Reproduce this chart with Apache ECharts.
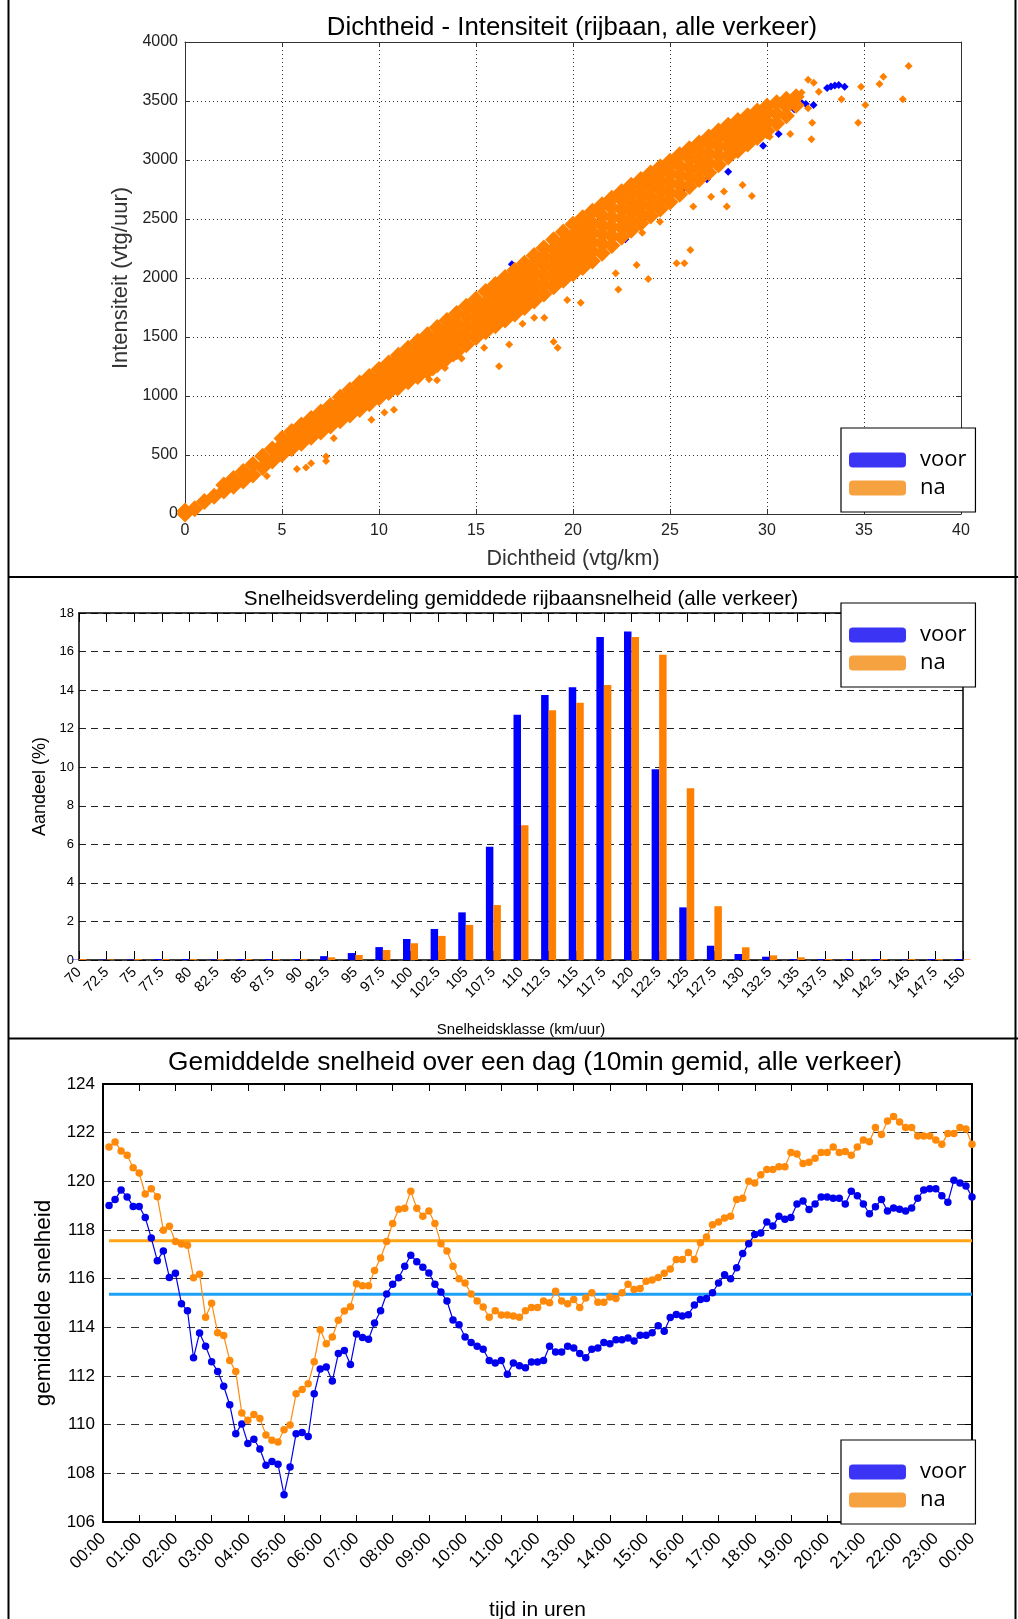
<!DOCTYPE html>
<html><head><meta charset="utf-8">
<script src="https://cdn.jsdelivr.net/npm/echarts@6/dist/echarts.min.js"></script>
<style>html,body{margin:0;padding:0;background:#fff}#c{width:1018px;height:1619px}</style>
</head><body><div id="c"></div>
<script>
// ---------- Panel 1: Dichtheid - Intensiteit (scatter) ----------
const naKolommen = [
[0,0,25],[0.5,45],[1,105],[1.5,150],[2,195,245],[2.5,235,300],[3,280,360],[3.5,330,420],
[4,395,490],[4.5,450,550],[5,505,585,640],[5.5,555,640,700],[6,600,680,755],[6.5,650,730,810],
[7,695,775,865],[7.5,745,830,920],[8,790,870,950,990],[8.5,840,920,1000,1050],[9,885,965,1045,1110],
[9.5,935,1015,1095,1165],[10,985,1065,1145,1225],[10.5,1030,1110,1190,1280],[11,1075,1155,1235,1315,1345],
[11.5,1120,1200,1280,1360,1405],[12,1165,1245,1325,1405,1465],[12.5,1210,1290,1370,1450,1520],
[13,1265,1345,1425,1505,1580],[13.5,1320,1400,1480,1560,1640],[14,1375,1455,1535,1615,1700],
[14.5,1435,1515,1595,1675,1760],[15,1495,1575,1655,1735,1820],[15.5,1545,1625,1705,1785,1885],
[16,1595,1675,1755,1835,1915,1945],[16.5,1645,1725,1805,1885,1965,2005],[17,1695,1775,1855,1935,2015,2065],
[17.5,1750,1830,1910,1990,2070,2125],[18,1805,1885,1965,2045,2125,2190],[18.5,1865,1945,2025,2105,2185,2255],
[19,1925,2005,2085,2165,2245,2325],[19.5,1980,2060,2140,2220,2300,2390],[20,2035,2115,2195,2275,2355,2455],
[20.5,2090,2170,2250,2330,2410,2510],[21,2145,2225,2305,2385,2465,2565],[21.5,2210,2290,2370,2450,2530,2620],
[22,2275,2355,2435,2515,2595,2675],[22.5,2345,2425,2505,2585,2665,2730],[23,2405,2485,2565,2645,2725,2785],
[23.5,2465,2545,2625,2705,2785,2835],[24,2525,2605,2685,2765,2845,2890],[24.5,2585,2665,2745,2825,2905,2940],
[25,2645,2725,2805,2885,2965,2990],[25.5,2710,2790,2870,2950,3045],[26,2775,2855,2935,3015,3095],
[26.5,2835,2915,2995,3075,3145],[27,2895,2975,3055,3135,3195],[27.5,2960,3040,3120,3200,3245],
[28,3025,3105,3185,3265,3295],[28.5,3080,3160,3240,3335],[29,3135,3215,3295,3375],[29.5,3190,3270,3350,3415],
[30,3245,3325,3405,3455],[30.5,3310,3390,3485],[31,3375,3455,3515],[31.5,3465,3535]
];
const naLosse = [
[37.3,3797],[36.0,3706],[35.8,3644],[37.0,3514],[34.85,3621],[35.07,3466],[34.7,3316],[33.84,3514],
[32.12,3681],[32.41,3655],[31.78,3571],[32.67,3579],[32.33,3316],[32.29,3175],[31.2,3220],[32.12,3438],
[30.14,3198],[29.22,2695],[28.74,2788],[27.93,2605],[27.78,2732],[27.12,2689],[26.2,2605],[26.05,2237],
[25.74,2124],[25.34,2124],[23.28,2110],[23.88,1992],[22.34,1902],[22.2,2040],[24.48,2477],[23.57,2384],
[20.4,1791],[19.7,1813],[19.0,1459],[19.21,1408],[18.0,1663],[18.52,1663],[17.4,1612],[16.71,1436],
[16.19,1252],[15.42,1408],[14.26,1317],[13.83,1317],[13.4,1238],[12.99,1133],[12.58,1142],[12.78,1201],
[10.77,884],[10.94,1031],[10.28,861],[9.61,799],[7.67,643],[7.27,487],[7.27,450],[6.5,431],[6.24,394],
[5.77,382],[4.22,323]
];
const voorPunten = [
[33.1,3610],[33.3,3622],[33.5,3632],[33.7,3636],[34.0,3620],[31.8,3480],[32.0,3475],[32.4,3466],
[31.0,3430],[31.4,3430],[30.6,3220],[29.8,3120],[28.4,3113],[27.6,2940],[28.0,2900],[26.9,2836],
[25.7,2757],[22.9,2440],[22.7,2328],[22.1,2288],[16.85,2116],[13.83,1394],[10.94,1111],[10.39,1045],
[9.35,955],[9.04,912],[8.06,807],[5,560],[15,1650],[20,2250],[25,2800],[30,3350]
];

// ---------- Panel 2: Snelheidsverdeling ----------
const snelheidsklassen = [70,72.5,75,77.5,80,82.5,85,87.5,90,92.5,95,97.5,100,102.5,105,107.5,110,112.5,115,117.5,120,122.5,125,127.5,130,132.5,135,137.5,140,142.5,145,147.5,150];
const aandeelVoor = [0.02,0.02,0.02,0.05,0.05,0.03,0.05,0.05,0.05,0.2,0.36,0.67,1.09,1.61,2.47,5.87,12.72,13.75,14.15,16.76,17.04,9.9,2.73,0.74,0.31,0.17,0.05,0.05,0.05,0.05,0.02,0.05,0.05];
const aandeelNa   = [0.05,0.03,0.05,0.05,0.05,0.05,0.05,0.05,0.05,0.14,0.26,0.52,0.87,1.25,1.82,2.85,6.99,12.96,13.34,14.27,16.76,15.83,8.91,2.79,0.66,0.24,0.14,0.05,0.05,0.05,0.05,0.05,0.03];

// ---------- Panel 3: Gemiddelde snelheid over een dag (10 min, 00:10 .. 24:00) ----------
const snelheidVoor = [
119.01,119.25,119.64,119.36,118.97,118.97,118.51,117.67,116.74,117.14,116.05,116.22,114.97,114.68,112.75,113.77,113.22,112.59,112.19,111.58,110.82,109.63,110.03,109.23,
109.40,109.00,108.33,108.49,108.37,107.12,108.26,109.63,109.68,109.51,111.27,112.29,112.37,111.79,112.92,113.05,112.47,113.73,113.58,113.51,114.18,114.68,115.37,115.77,
116.04,116.51,116.96,116.70,116.47,116.23,115.77,115.45,115.08,114.30,114.11,113.60,113.38,113.22,113.10,112.64,112.53,112.64,112.07,112.53,112.42,112.34,112.58,112.58,
112.64,113.22,112.99,112.99,113.22,113.15,112.92,112.75,113.10,113.15,113.38,113.33,113.49,113.49,113.56,113.44,113.67,113.67,113.78,114.07,113.84,114.40,114.53,114.47,
114.52,114.92,115.14,115.19,115.42,115.82,116.16,116.00,116.45,117.03,117.44,117.82,117.88,118.33,118.16,118.56,118.44,118.51,119.07,119.19,118.84,119.07,119.36,119.36,
119.30,119.30,119.07,119.59,119.41,119.07,118.67,118.96,119.25,118.78,118.90,118.85,118.78,118.90,119.30,119.64,119.70,119.70,119.41,119.14,120.04,119.93,119.81,119.36
];
const snelheidNa = [
121.41,121.62,121.25,121.07,120.56,120.34,119.48,119.70,119.37,117.99,118.15,117.53,117.42,117.37,116.04,116.18,114.41,114.99,113.78,113.66,112.64,112.18,110.48,110.18,
110.42,110.25,109.58,109.36,109.29,109.79,109.99,111.27,111.45,111.68,112.59,113.90,113.33,113.60,114.29,114.67,114.85,115.79,115.71,115.71,116.34,116.85,117.53,118.27,
118.85,118.89,119.59,118.89,118.56,118.78,118.27,117.44,117.14,116.51,116.00,115.82,115.37,115.08,114.84,114.41,114.68,114.51,114.51,114.47,114.41,114.68,114.81,114.81,
115.08,115.01,115.48,115.08,114.97,115.14,114.81,115.21,115.42,115.03,115.03,115.25,115.19,115.42,115.77,115.55,115.60,115.89,115.95,116.05,116.22,116.40,116.79,116.79,
117.08,116.79,117.48,117.71,118.22,118.33,118.49,118.56,119.25,119.30,120.00,119.93,120.27,120.49,120.49,120.60,120.60,121.18,121.12,120.73,120.78,120.95,121.18,121.18,
121.41,121.18,121.23,121.07,121.41,121.70,121.63,122.21,121.92,122.48,122.66,122.44,122.21,122.21,121.86,121.86,121.86,121.70,121.52,121.97,121.97,122.21,122.15,121.52
];
const gemiddeldeVoor = 115.36;
const gemiddeldeNa = 117.56;
const uurLabels = ['00:00','01:00','02:00','03:00','04:00','05:00','06:00','07:00','08:00','09:00','10:00','11:00','12:00','13:00','14:00','15:00','16:00','17:00','18:00','19:00','20:00','21:00','22:00','23:00','00:00'];

// ---------- build ----------
const naBand = [];
naKolommen.forEach(r => { for (let k = 1; k < r.length; k++) naBand.push([r[0], r[k]]); });
const barVoor = snelheidsklassen.map((k, i) => [k, aandeelVoor[i]]);
const barNa = snelheidsklassen.map((k, i) => [k, aandeelNa[i]]);
const lijnVoor = snelheidVoor.map((v, i) => [(i + 1) * 10, v]);
const lijnNa = snelheidNa.map((v, i) => [(i + 1) * 10, v]);

const F = "'Liberation Sans', Arial, sans-serif";
const BLUE = '#0000ff', ORANGE = '#ff8000';

function legendBox(left, top) {
  return {
    left: left, top: top, orient: 'vertical', icon: 'roundRect',
    itemWidth: 57, itemHeight: 15, itemGap: 6, padding: [21, 9, 13, 8],
    backgroundColor: '#fff', borderColor: '#000', borderWidth: 1.2,
    selectedMode: false, z: 20,
    textStyle: { fontFamily: "'Open Sans', sans-serif", fontSize: 22, color: '#000', padding: [0, 0, 0, 9] },
    data: [{ name: 'voor', itemStyle: { color: '#3c34f4', opacity: 1 } }, { name: 'na', itemStyle: { color: '#f7a241', opacity: 1 } }]
  };
}
function mirrorX(grid, min, max, interval, color, width, tickLen) {
  return { gridIndex: grid, type: 'value', position: 'top', min, max, interval,
    axisLine: { show: true, onZero: false, lineStyle: { color, width } },
    axisTick: { show: true, inside: true, length: tickLen, lineStyle: { color, width: 1 } },
    axisLabel: { show: false }, splitLine: { show: false } };
}
function mirrorY(grid, min, max, interval, color, width, tickLen) {
  return { gridIndex: grid, type: 'value', position: 'right', min, max, interval,
    axisLine: { show: true, onZero: false, lineStyle: { color, width } },
    axisTick: { show: true, inside: true, length: tickLen, lineStyle: { color, width: 1 } },
    axisLabel: { show: false }, splitLine: { show: false } };
}

const option = {
  animation: false,
  backgroundColor: '#fff',
  title: [
    { text: 'Dichtheid - Intensiteit (rijbaan, alle verkeer)', left: 567, top: 10, textAlign: 'center',
      textStyle: { fontFamily: F, fontSize: 25.8, fontWeight: 'normal', color: '#000' } },
    { text: 'Snelheidsverdeling gemiddede rijbaansnelheid (alle verkeer)', left: 516, top: 584, textAlign: 'center',
      textStyle: { fontFamily: F, fontSize: 20.7, fontWeight: 'normal', color: '#000' } },
    { text: 'Gemiddelde snelheid over een dag (10min gemid, alle verkeer)', left: 530, top: 1045, textAlign: 'center',
      textStyle: { fontFamily: F, fontSize: 26.3, fontWeight: 'normal', color: '#000' } }
  ],
  legend: [legendBox(841, 428), legendBox(841, 603), legendBox(841, 1440)],
  grid: [
    { left: 185, right: 57, top: 42, height: 472, outerBoundsMode: 'none', containLabel: false },
    { left: 79, right: 55, top: 613, height: 347, outerBoundsMode: 'none', containLabel: false },
    { left: 103, right: 46, top: 1084, height: 438, outerBoundsMode: 'none', containLabel: false }
  ],
  xAxis: [
    { gridIndex: 0, type: 'value', min: 0, max: 40, interval: 5,
      axisLine: { show: true, onZero: false, lineStyle: { color: '#333', width: 1 } },
      axisTick: { show: true, inside: true, length: 5, lineStyle: { color: '#333' } },
      axisLabel: { fontFamily: F, fontSize: 16, color: '#222', margin: 9 },
      splitLine: { show: true, lineStyle: { type: [1, 3], color: '#333', width: 1 } },
      name: 'Dichtheid (vtg/km)', nameLocation: 'middle', nameGap: 34,
      nameTextStyle: { fontFamily: F, fontSize: 21.5, color: '#333' } },
    mirrorX(0, 0, 40, 5, '#333', 1, 5),
    { gridIndex: 1, type: 'value', min: 70, max: 150, interval: 2.5,
      axisLine: { show: true, onZero: false, lineStyle: { color: '#000', width: 1.5 } },
      axisTick: { show: true, inside: true, length: 9, lineStyle: { color: '#000' } },
      axisLabel: { fontFamily: F, fontSize: 14.5, color: '#000', rotate: 45, margin: 10,
        formatter: v => String(v) },
      splitLine: { show: false },
      name: 'Snelheidsklasse (km/uur)', nameLocation: 'middle', nameGap: 62,
      nameTextStyle: { fontFamily: F, fontSize: 15, color: '#000' } },
    mirrorX(1, 70, 150, 2.5, '#000', 1.5, 9),
    { gridIndex: 2, type: 'value', min: 0, max: 1440, interval: 60,
      axisLine: { show: true, onZero: false, lineStyle: { color: '#000', width: 2 } },
      axisTick: { show: true, inside: true, length: 7, lineStyle: { color: '#000' } },
      axisLabel: { fontFamily: F, fontSize: 17, color: '#000', rotate: 45, margin: 14,
        formatter: v => uurLabels[Math.round(v / 60)] },
      splitLine: { show: false },
      name: 'tijd in uren', nameLocation: 'middle', nameGap: 78,
      nameTextStyle: { fontFamily: F, fontSize: 21, color: '#000' } },
    mirrorX(2, 0, 1440, 60, '#000', 2, 7)
  ],
  yAxis: [
    { gridIndex: 0, type: 'value', min: 0, max: 4000, interval: 500,
      axisLine: { show: true, onZero: false, lineStyle: { color: '#333', width: 1 } },
      axisTick: { show: true, inside: true, length: 5, lineStyle: { color: '#333' } },
      axisLabel: { fontFamily: F, fontSize: 16, color: '#222', margin: 7, formatter: v => String(v) },
      splitLine: { show: true, lineStyle: { type: [1, 3], color: '#333', width: 1 } },
      name: 'Intensiteit (vtg/uur)', nameLocation: 'middle', nameGap: 51,
      nameTextStyle: { fontFamily: F, fontSize: 22, color: '#333' } },
    mirrorY(0, 0, 4000, 500, '#333', 1, 5),
    { gridIndex: 1, type: 'value', min: 0, max: 18, interval: 2,
      axisLine: { show: true, onZero: false, lineStyle: { color: '#000', width: 1.5 } },
      axisTick: { show: false },
      axisLabel: { fontFamily: F, fontSize: 13, color: '#000', margin: 5 },
      splitLine: { show: true, lineStyle: { type: [7, 5], color: '#222', width: 1.2 } },
      name: 'Aandeel (%)', nameLocation: 'middle', nameGap: 26,
      nameTextStyle: { fontFamily: F, fontSize: 18, color: '#000' } },
    mirrorY(1, 0, 18, 2, '#000', 1.5, 9),
    { gridIndex: 2, type: 'value', min: 106, max: 124, interval: 2,
      axisLine: { show: true, onZero: false, lineStyle: { color: '#000', width: 2 } },
      axisTick: { show: false },
      axisLabel: { fontFamily: F, fontSize: 17, color: '#000', margin: 8 },
      splitLine: { show: true, lineStyle: { type: [8, 6], color: '#333', width: 1.2 } },
      name: 'gemiddelde snelheid', nameLocation: 'middle', nameGap: 44,
      nameTextStyle: { fontFamily: F, fontSize: 22.5, color: '#000' } },
    mirrorY(2, 106, 124, 2, '#000', 2, 7)
  ],
  series: [
    { name: 'voor', type: 'scatter', xAxisIndex: 0, yAxisIndex: 0, symbol: 'diamond', symbolSize: 8,
      itemStyle: { color: BLUE, opacity: 1 }, data: voorPunten },
    { name: 'na', type: 'scatter', xAxisIndex: 0, yAxisIndex: 0, symbol: 'diamond', symbolSize: 17,
      itemStyle: { color: ORANGE, opacity: 1 }, data: naBand },
    { name: 'na', type: 'scatter', xAxisIndex: 0, yAxisIndex: 0, symbol: 'diamond', symbolSize: 8,
      itemStyle: { color: ORANGE, opacity: 1 }, data: naLosse },

    { name: 'voor', type: 'bar', xAxisIndex: 2, yAxisIndex: 2, barWidth: 7.5, barGap: '0%',
      itemStyle: { color: BLUE }, data: barVoor },
    { name: 'na', type: 'bar', xAxisIndex: 2, yAxisIndex: 2, barWidth: 7.5, barGap: '0%',
      itemStyle: { color: ORANGE }, data: barNa },

    { name: 'gem na', type: 'line', xAxisIndex: 4, yAxisIndex: 4, symbol: 'none',
      lineStyle: { color: '#ffa514', width: 3 }, data: [[10, gemiddeldeNa], [1440, gemiddeldeNa]] },
    { name: 'gem voor', type: 'line', xAxisIndex: 4, yAxisIndex: 4, symbol: 'none',
      lineStyle: { color: '#1ea0f8', width: 3 }, data: [[10, gemiddeldeVoor], [1440, gemiddeldeVoor]] },
    { name: 'voor', type: 'line', xAxisIndex: 4, yAxisIndex: 4, symbol: 'circle', symbolSize: 7.5,
      itemStyle: { color: '#0000ee' }, lineStyle: { color: '#0000ee', width: 1.2 }, data: lijnVoor },
    { name: 'na', type: 'line', xAxisIndex: 4, yAxisIndex: 4, symbol: 'circle', symbolSize: 7.5,
      itemStyle: { color: '#ff8a0a' }, lineStyle: { color: '#ff8a0a', width: 1.2 }, data: lijnNa }
  ],
  graphic: [
    { type: 'line', shape: { x1: 8.5, y1: 0, x2: 8.5, y2: 1619 }, style: { stroke: '#000', lineWidth: 2 }, z: 100 },
    { type: 'line', shape: { x1: 1015.5, y1: 0, x2: 1015.5, y2: 1619 }, style: { stroke: '#000', lineWidth: 2 }, z: 100 },
    { type: 'line', shape: { x1: 8, y1: 577, x2: 1018, y2: 577 }, style: { stroke: '#000', lineWidth: 2 }, z: 100 },
    { type: 'line', shape: { x1: 8, y1: 1038.5, x2: 1018, y2: 1038.5 }, style: { stroke: '#000', lineWidth: 2 }, z: 100 }
  ]
};
const chart = echarts.init(document.getElementById('c'), null, { renderer: 'canvas' });
chart.setOption(option);
</script></body></html>
